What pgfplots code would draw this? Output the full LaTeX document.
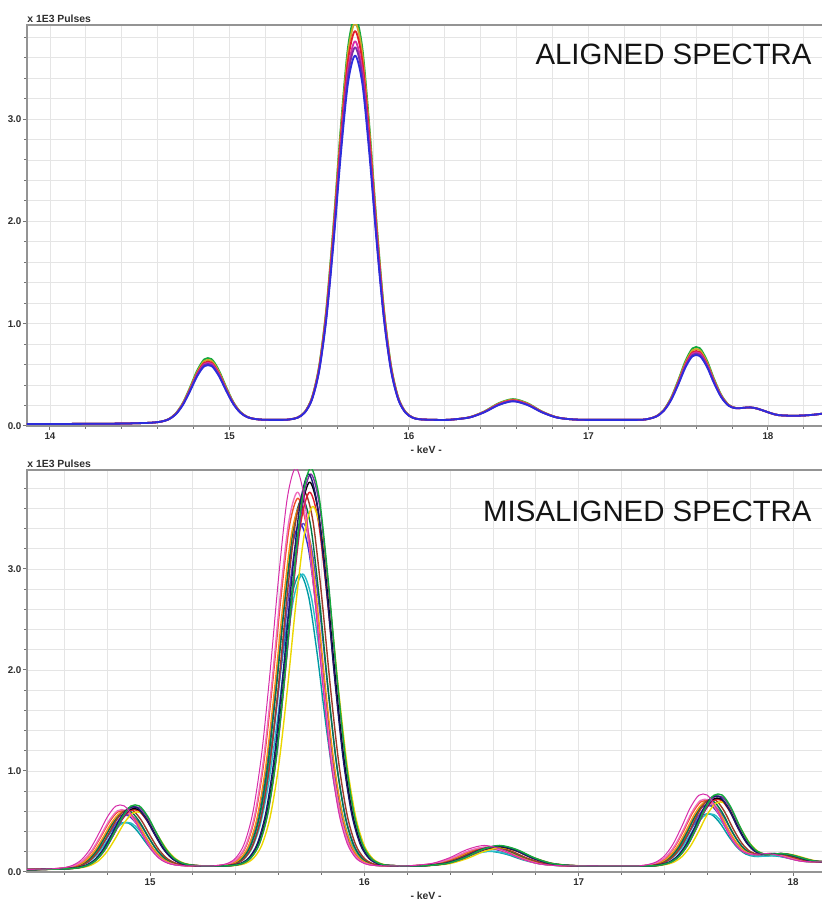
\documentclass[border=0pt]{standalone}
\usepackage{fontspec}
\setmainfont{Liberation Sans}
\setsansfont{Liberation Sans}
\usepackage{pgfplots}
\usepackage{pgfplotstable}
\pgfplotsset{compat=1.18}

\definecolor{cGreen}{RGB}{20,170,60}
\definecolor{cOlive}{RGB}{205,170,40}
\definecolor{cRed}{RGB}{225,30,45}
\definecolor{cMagenta}{RGB}{215,45,170}
\definecolor{cPurple}{RGB}{125,45,165}
\definecolor{cBlue}{RGB}{45,45,220}
\definecolor{cNavy}{RGB}{25,25,110}
\definecolor{cTeal}{RGB}{0,155,165}
\definecolor{cCyan}{RGB}{40,190,200}
\definecolor{cOrange}{RGB}{245,150,20}
\definecolor{cOrRed}{RGB}{240,80,40}
\definecolor{cYellow}{RGB}{235,215,0}
\definecolor{cDkGreen}{RGB}{0,120,70}
\definecolor{cBrown}{RGB}{160,60,40}
\definecolor{cPink}{RGB}{240,110,190}
\definecolor{cViolet}{RGB}{95,70,200}

% Counts (x 1E3 pulses) per energy channel (keV) for eight spectra
\pgfplotstableread{
x     T1    T2    T3    T4    T5    T6    T7    T8
13.82 0.020 0.020 0.020 0.020 0.020 0.020 0.020 0.020
13.94 0.020 0.020 0.020 0.020 0.020 0.020 0.020 0.020
14.06 0.020 0.020 0.020 0.020 0.020 0.020 0.020 0.020
14.18 0.021 0.021 0.021 0.021 0.021 0.021 0.021 0.021
14.30 0.022 0.022 0.022 0.022 0.022 0.022 0.022 0.022
14.42 0.024 0.024 0.024 0.024 0.024 0.024 0.024 0.024
14.46 0.026 0.026 0.026 0.026 0.026 0.026 0.026 0.026
14.50 0.028 0.028 0.028 0.028 0.028 0.028 0.028 0.028
14.54 0.030 0.030 0.030 0.030 0.030 0.030 0.030 0.030
14.58 0.034 0.034 0.034 0.034 0.034 0.034 0.033 0.034
14.62 0.043 0.043 0.043 0.043 0.043 0.043 0.041 0.042
14.66 0.067 0.066 0.065 0.065 0.064 0.064 0.058 0.062
14.70 0.121 0.119 0.117 0.115 0.114 0.112 0.098 0.108
14.74 0.225 0.220 0.215 0.211 0.208 0.204 0.173 0.196
14.78 0.377 0.368 0.358 0.352 0.346 0.339 0.283 0.324
14.82 0.542 0.528 0.514 0.504 0.495 0.486 0.402 0.463
14.86 0.652 0.635 0.618 0.606 0.595 0.584 0.482 0.555
14.90 0.654 0.637 0.620 0.608 0.597 0.586 0.484 0.557
14.94 0.548 0.534 0.520 0.510 0.501 0.492 0.408 0.469
14.98 0.387 0.378 0.368 0.362 0.356 0.349 0.293 0.334
15.02 0.239 0.234 0.229 0.225 0.222 0.218 0.187 0.210
15.06 0.139 0.137 0.135 0.133 0.132 0.130 0.116 0.126
15.10 0.089 0.088 0.087 0.087 0.086 0.086 0.080 0.084
15.14 0.069 0.069 0.069 0.069 0.069 0.069 0.067 0.068
15.18 0.062 0.062 0.062 0.062 0.062 0.062 0.062 0.062
15.22 0.060 0.060 0.060 0.060 0.060 0.060 0.060 0.060
15.30 0.060 0.060 0.060 0.060 0.060 0.060 0.060 0.060
15.34 0.066 0.066 0.066 0.066 0.066 0.065 0.064 0.065
15.38 0.084 0.083 0.083 0.082 0.082 0.081 0.077 0.080
15.42 0.139 0.138 0.136 0.134 0.133 0.131 0.118 0.128
15.46 0.281 0.277 0.273 0.267 0.264 0.259 0.222 0.250
15.50 0.592 0.584 0.573 0.560 0.551 0.541 0.450 0.518
15.54 1.155 1.139 1.116 1.089 1.072 1.050 0.863 1.002
15.58 1.979 1.950 1.911 1.862 1.833 1.794 1.467 1.711
15.62 2.920 2.877 2.819 2.746 2.703 2.645 2.158 2.521
15.66 3.697 3.641 3.567 3.475 3.420 3.346 2.727 3.189
15.70 4.000 3.940 3.860 3.760 3.700 3.620 2.950 3.450
15.74 3.697 3.641 3.567 3.475 3.420 3.346 2.727 3.189
15.78 2.920 2.877 2.819 2.746 2.703 2.645 2.158 2.521
15.82 1.979 1.950 1.911 1.862 1.833 1.794 1.467 1.711
15.86 1.155 1.139 1.116 1.089 1.072 1.050 0.863 1.002
15.90 0.592 0.584 0.573 0.560 0.551 0.541 0.450 0.518
15.94 0.281 0.277 0.273 0.267 0.264 0.259 0.222 0.250
15.98 0.139 0.138 0.136 0.134 0.133 0.131 0.118 0.128
16.02 0.084 0.083 0.083 0.082 0.082 0.081 0.077 0.080
16.06 0.066 0.066 0.066 0.066 0.066 0.065 0.064 0.065
16.14 0.060 0.060 0.060 0.060 0.060 0.060 0.060 0.060
16.22 0.060 0.060 0.060 0.060 0.060 0.060 0.060 0.060
16.26 0.066 0.066 0.066 0.066 0.066 0.066 0.064 0.065
16.34 0.087 0.087 0.086 0.085 0.085 0.084 0.080 0.083
16.42 0.143 0.141 0.139 0.137 0.136 0.134 0.120 0.130
16.50 0.223 0.219 0.214 0.211 0.207 0.205 0.177 0.197
16.58 0.263 0.258 0.252 0.248 0.244 0.241 0.206 0.231
16.66 0.223 0.219 0.214 0.211 0.207 0.205 0.177 0.197
16.74 0.143 0.141 0.139 0.137 0.136 0.134 0.120 0.130
16.82 0.087 0.087 0.086 0.085 0.085 0.084 0.080 0.083
16.90 0.066 0.066 0.066 0.066 0.066 0.066 0.064 0.065
16.98 0.060 0.060 0.060 0.060 0.060 0.060 0.060 0.060
17.06 0.060 0.060 0.060 0.060 0.060 0.060 0.060 0.060
17.14 0.060 0.060 0.060 0.060 0.060 0.060 0.060 0.060
17.22 0.060 0.060 0.060 0.060 0.060 0.060 0.060 0.060
17.30 0.061 0.061 0.061 0.061 0.061 0.061 0.061 0.061
17.34 0.072 0.072 0.072 0.072 0.072 0.072 0.070 0.071
17.38 0.098 0.097 0.096 0.096 0.095 0.094 0.088 0.093
17.42 0.159 0.157 0.154 0.152 0.150 0.149 0.133 0.144
17.46 0.276 0.270 0.264 0.260 0.256 0.252 0.217 0.242
17.50 0.447 0.436 0.426 0.418 0.411 0.404 0.340 0.386
17.54 0.634 0.618 0.602 0.592 0.581 0.571 0.475 0.544
17.58 0.759 0.740 0.720 0.708 0.695 0.682 0.566 0.650
17.62 0.761 0.742 0.722 0.710 0.697 0.684 0.568 0.652
17.66 0.641 0.625 0.609 0.599 0.588 0.578 0.482 0.551
17.70 0.459 0.448 0.438 0.430 0.423 0.416 0.352 0.398
17.74 0.304 0.298 0.292 0.288 0.284 0.280 0.242 0.270
17.78 0.209 0.207 0.204 0.202 0.200 0.199 0.177 0.194
17.82 0.177 0.176 0.175 0.175 0.174 0.173 0.155 0.172
17.86 0.177 0.177 0.177 0.177 0.177 0.177 0.158 0.176
17.90 0.182 0.182 0.182 0.182 0.182 0.182 0.161 0.182
17.94 0.170 0.170 0.170 0.170 0.170 0.170 0.153 0.170
17.98 0.147 0.147 0.147 0.147 0.147 0.147 0.135 0.147
18.02 0.123 0.123 0.123 0.123 0.123 0.123 0.117 0.123
18.06 0.106 0.106 0.106 0.106 0.106 0.106 0.103 0.106
18.14 0.100 0.100 0.100 0.100 0.100 0.100 0.098 0.100
18.22 0.105 0.105 0.105 0.105 0.105 0.105 0.102 0.105
18.30 0.120 0.120 0.120 0.120 0.120 0.120 0.115 0.120
18.38 0.150 0.150 0.150 0.150 0.150 0.150 0.140 0.150
}\spectra

\pgfplotsset{
  specaxis/.style={
    scale only axis,
    ymin=0,
    ytick={0,1,2,3},
    yticklabels={0.0,1.0,2.0,3.0},
    minor ytick={0.2,0.4,0.6,0.8,1.2,1.4,1.6,1.8,2.2,2.4,2.6,2.8,3.2,3.4,3.6,3.8},
    minor xtick={14.2,14.4,14.6,14.8,15.2,15.4,15.6,15.8,16.2,16.4,16.6,16.8,17.2,17.4,17.6,17.8,18.2},
    grid=both,
    major grid style={draw=black!10, line width=0.45pt},
    minor grid style={draw=black!10, line width=0.45pt},
    axis line style={draw=black!42, line width=0.8pt},
    tick align=outside,
    tick pos=left,
    major tick length=2pt,
    minor tick length=1.3pt,
    tick style={draw=black!55, line width=0.5pt},
    ticklabel style={font=\bfseries\fontsize{4.9}{5.5}\selectfont, text=black!82},
    yticklabel style={inner xsep=0.6pt},
    xticklabel style={inner ysep=1.2pt},
    xlabel={- keV -},
    xlabel style={font=\bfseries\fontsize{5.2}{6}\selectfont, text=black!82,
      at={(axis description cs:0.5,0)}, anchor=center, yshift=-12pt},
    every axis plot/.append style={no markers, smooth, line join=round},
  },
}
\tikzset{
  titletext/.style={font=\fontsize{14.7}{16}\selectfont, text=black!92, inner sep=0pt},
  unittext/.style={font=\bfseries\fontsize{5.2}{6}\selectfont, text=black!82, inner sep=0pt},
}

\begin{document}
\begin{tikzpicture}
\useasboundingbox (0,0) rectangle (410.5pt,449.5pt);

% aligned spectra
\begin{axis}[specaxis, name=top,
  at={(13.5pt,236.5pt)}, anchor=south west,
  width=399.2pt, height=200.5pt,
  xmin=13.872, xmax=18.32, ymax=3.919,
  xtick={14,15,16,17,18}, xticklabels={14,15,16,17,18},
  every axis plot/.append style={line width=0.9pt}]
\addplot[cGreen]   table[x=x, y=T1] {\spectra};
\addplot[cOlive]   table[x=x, y=T2] {\spectra};
\addplot[cRed]     table[x=x, y=T3] {\spectra};
\addplot[cMagenta] table[x=x, y=T4] {\spectra};
\addplot[cPurple]  table[x=x, y=T5] {\spectra};
\addplot[cBlue]    table[x=x, y=T6] {\spectra};
\end{axis}
\node[unittext, anchor=south west] at ([yshift=1.2pt]top.north west) {x 1E3 Pulses};
\node[titletext, anchor=base east] at (406pt,417pt) {ALIGNED SPECTRA};

% misaligned spectra: each spectrum carries its own energy offset
\begin{axis}[specaxis, name=bottom,
  at={(13.5pt,13.5pt)}, anchor=south west,
  width=399.1pt, height=201pt,
  xmin=14.426, xmax=18.15, ymax=3.98,
  xtick={15,16,17,18}, xticklabels={15,16,17,18},
  every axis plot/.append style={line width=0.7pt}]
\addplot[cTeal]    table[x expr=\thisrow{x}+0.000, y=T7] {\spectra};
\addplot[cCyan]    table[x expr=\thisrow{x}+0.012, y=T7] {\spectra};
\addplot[cBlue]    table[x expr=\thisrow{x}+0.000, y=T8] {\spectra};
\addplot[cViolet]  table[x expr=\thisrow{x}+0.015, y=T8] {\spectra};
\addplot[cDkGreen] table[x expr=\thisrow{x}+0.010, y=T5] {\spectra};
\addplot[cOrange]  table[x expr=\thisrow{x}+0.000, y=T6] {\spectra};
\addplot[cOrRed]   table[x expr=\thisrow{x}-0.010, y=T5] {\spectra};
\addplot[cPink]    table[x expr=\thisrow{x}-0.012, y=T4] {\spectra};
\addplot[cBrown]   table[x expr=\thisrow{x}+0.020, y=T4] {\spectra};
\addplot[cRed]     table[x expr=\thisrow{x}+0.045, y=T4] {\spectra};
\addplot[cYellow]  table[x expr=\thisrow{x}+0.060, y=T6] {\spectra};
\addplot[black]    table[x expr=\thisrow{x}+0.045, y=T3] {\spectra};
\addplot[cPurple]  table[x expr=\thisrow{x}+0.050, y=T2] {\spectra};
\addplot[cNavy]    table[x expr=\thisrow{x}+0.040, y=T2] {\spectra};
\addplot[cGreen]   table[x expr=\thisrow{x}+0.050, y=T1] {\spectra};
\addplot[cMagenta, line width=0.5pt] table[x expr=\thisrow{x}-0.020, y=T1] {\spectra};
\end{axis}
\node[unittext, anchor=south west] at ([yshift=1.2pt]bottom.north west) {x 1E3 Pulses};
\node[titletext, anchor=base east] at (406pt,188.5pt) {MISALIGNED SPECTRA};
\end{tikzpicture}
\end{document}
